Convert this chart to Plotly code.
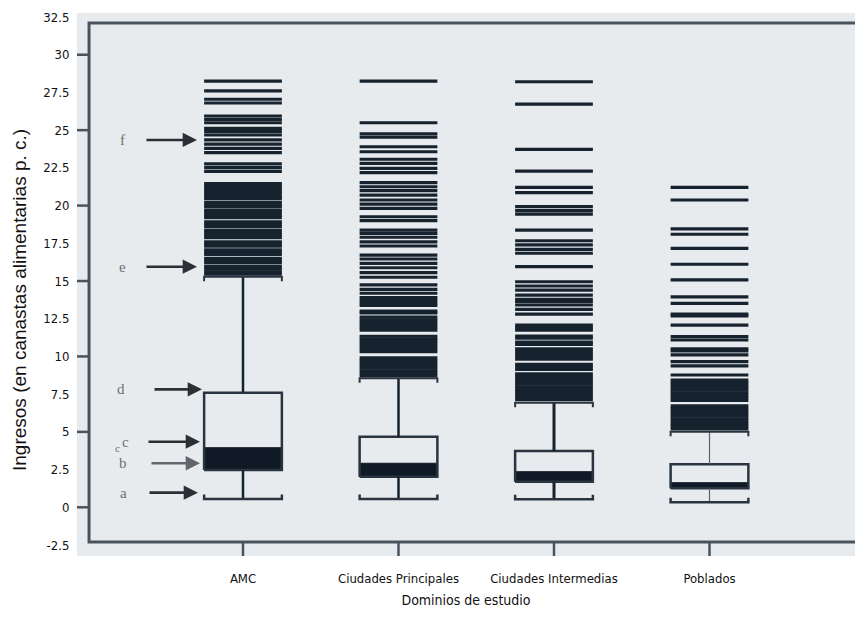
import plotly.graph_objects as go

# ---------------- data ----------------
categories = ["AMC", "Ciudades Principales", "Ciudades Intermedias", "Poblados"]
lower_whisker = [0.55, 0.55, 0.53, 0.33]
q1 = [2.47, 2.03, 1.70, 1.26]
median = [3.95, 2.92, 2.36, 1.63]
q3 = [7.60, 4.68, 3.73, 2.85]
upper_whisker = [15.29, 8.55, 6.93, 5.01]

outliers_amc = [28.25, 27.6, 27.05, 26.8, 25.94, 25.72, 25.49, 25.12, 24.9, 24.68, 24.35, 24.08,
                23.79, 23.51, 22.76, 22.51, 22.27,
                21.45, 21.28, 21.11, 20.94, 20.77, 20.6, 20.46, 20.22, 20.06, 19.93, 19.7, 19.53,
                19.36, 19.2, 18.93, 18.77, 18.62, 18.38, 18.21, 18.04, 17.87, 17.6, 17.45, 17.31,
                17.06, 16.91, 16.76, 16.5, 16.35, 16.2, 15.95, 15.78, 15.61, 15.45]
outliers_principales = [28.25, 25.49, 24.75, 24.53, 23.9, 23.57, 23.07, 22.8, 22.47, 22.18, 21.52,
                        21.25, 20.99, 20.7, 20.37, 20.1, 19.82, 19.26, 19.0, 18.38, 18.16, 17.9,
                        17.6, 17.32, 16.72, 16.46, 16.17, 15.88, 15.55, 15.25, 14.74, 14.45, 14.19,
                        13.9, 13.72, 13.55, 13.38, 13.0, 12.88, 12.6, 12.43, 12.26, 12.09, 11.92,
                        11.75, 11.34, 11.17, 11.0, 10.83, 10.66, 10.49, 10.32, 9.9, 9.73, 9.56,
                        9.39, 9.22, 9.05, 8.88, 8.72]
outliers_intermedias = [28.21, 26.73, 23.73, 22.29, 21.21, 20.86, 19.93, 19.66, 19.44, 18.38,
                        17.67, 17.39, 17.1, 16.84, 15.95, 14.95, 14.67, 14.4, 14.07, 13.79, 13.63,
                        13.41, 13.12, 12.81, 12.08, 11.91, 11.74, 11.35, 11.22, 10.95, 10.8, 10.5,
                        10.33, 10.16, 9.99, 9.82, 9.48, 9.31, 9.14, 8.84, 8.67, 8.5, 8.33, 8.16,
                        7.99, 7.82, 7.65, 7.48, 7.31, 7.14]
outliers_poblados = [21.21, 20.37, 18.45, 18.1, 17.17, 16.11, 15.07, 13.95, 13.52, 12.8, 12.68,
                     12.08, 11.31, 11.09, 10.5, 10.36, 10.1, 9.65, 9.37, 8.77, 8.44, 8.27, 8.1,
                     7.93, 7.76, 7.59, 7.42, 7.25, 7.08, 6.72, 6.55, 6.38, 6.21, 6.04, 5.87, 5.7,
                     5.53, 5.36, 5.2]
outliers = [outliers_amc, outliers_principales, outliers_intermedias, outliers_poblados]

y_tick_vals = [-2.5, 0, 2.5, 5, 7.5, 10, 12.5, 15, 17.5, 20, 22.5, 25, 27.5, 30, 32.5]
y_tick_text = ["-2.5", "0", "2.5", "5", "7.5", "10", "12.5", "15", "17.5", "20", "22.5", "25",
               "27.5", "30", "32.5"]
frame_ticks = [0, 5, 10, 15, 20, 25, 30]

arrow_letters = ["f", "e", "d", "c", "b", "a"]
arrow_values = [24.35, 15.95, 7.82, 4.35, 2.92, 0.97]

y_title = "Ingresos (en canastas alimentarias p. c.)"
x_title = "Dominios de estudio"

# ---------------- style ----------------
NARROW = "Liberation Sans Narrow, Arial Narrow, DejaVu Sans Condensed, Liberation Sans, sans-serif"
DARK = "#17222f"
BG = "#e8ebed"
HW = 0.25            # half width of boxes
X0, X1 = -1.0675, 3.9357
Y0, Y1 = -3.228, 32.766

fig = go.Figure()

def seg_trace(xs, ys, width, color):
    fig.add_trace(go.Scatter(x=xs, y=ys, mode="lines", hoverinfo="skip", showlegend=False,
                             line=dict(color=color, width=width)))

# scanned frame (left, top, bottom lines) and ticks
seg_trace([X1, -0.99, -0.99, X1], [32.1, 32.1, -2.3, -2.3], 3, "#4a545e")
fx, fy = [], []
for v in frame_ticks:
    fx += [X0, -0.99, None]
    fy += [v, v, None]
for i in range(len(categories)):
    fx += [i, i, None]
    fy += [-2.3, Y0, None]
seg_trace(fx, fy, 2.5, "#4a545e")

whisker_w = [2.5, 2.5, 3, 1.2]
whisker_c = [DARK, DARK, DARK, "#5a6470"]
for i in range(len(categories)):
    c = i
    # black band Q1..median
    fig.add_trace(go.Scatter(x=[c - HW, c + HW, c + HW, c - HW, c - HW],
                             y=[q1[i], q1[i], median[i], median[i], q1[i]],
                             mode="lines", fill="toself", fillcolor="#0f1a26",
                             line=dict(color="#0f1a26", width=1), hoverinfo="skip",
                             showlegend=False))
    # box outline
    seg_trace([c - HW, c + HW, c + HW, c - HW, c - HW],
              [q1[i], q1[i], q3[i], q3[i], q1[i]], 2.5, "#2a3440")
    # whiskers
    seg_trace([c, c, None, c, c], [lower_whisker[i], q1[i], None, q3[i], upper_whisker[i]],
              whisker_w[i], whisker_c[i])
    # caps with small end ticks
    t = 0.3
    seg_trace([c - HW, c - HW, c + HW, c + HW],
              [lower_whisker[i] + t, lower_whisker[i], lower_whisker[i], lower_whisker[i] + t],
              2.5, "#2a3440")
    seg_trace([c - HW, c - HW, c + HW, c + HW],
              [upper_whisker[i] - t, upper_whisker[i], upper_whisker[i], upper_whisker[i] - t],
              2, "#2a3440")
    # outliers as horizontal lines
    ox, oy = [], []
    for v in outliers[i]:
        ox += [c - HW, c + HW, None]
        oy += [v, v, None]
    seg_trace(ox, oy, 3.2, DARK)

# arrows + letters (AMC)
tip_px = [197, 197, 202, 200, 200, 198]
tail_px = [145, 145, 153, 147, 150, 148]
letter_px = [122, 122, 121, 125, 123, 123]
for k, lab in enumerate(arrow_letters):
    fig.add_annotation(x=(tip_px[k] - 243) / 155.5, y=arrow_values[k], xref="x", yref="y",
                       ax=tail_px[k] - tip_px[k], ay=0, text="", showarrow=True,
                       arrowhead=2, arrowsize=1.1, arrowwidth=2.6,
                       arrowcolor="#2c3034" if lab != "b" else "#60666c")
    fig.add_annotation(x=(letter_px[k] - 243) / 155.5, y=arrow_values[k], xref="x", yref="y",
                       text=lab, showarrow=False,
                       font=dict(family="Liberation Serif", size=15, color="#6a7075"))
fig.add_annotation(x=(117 - 243) / 155.5, y=3.95, xref="x", yref="y", text="c",
                   showarrow=False, font=dict(family="Liberation Serif", size=11, color="#6a7075"))

# y-axis title (positioned as in the reference)
fig.add_annotation(xref="paper", yref="paper", x=(19 - 77) / 778, y=(556 - 300) / 543,
                   text=y_title, textangle=-90, showarrow=False,
                   xanchor="center", yanchor="middle",
                   font=dict(family="Liberation Sans, Arial, sans-serif", size=19,
                             color="#111111"))

fig.update_layout(
    width=855, height=625,
    margin=dict(l=77, r=0, t=13, b=69),
    paper_bgcolor="white", plot_bgcolor=BG,
    showlegend=False,
    font=dict(family=NARROW, size=13, color="#111111"),
    xaxis=dict(range=[X0, X1], tickvals=[0, 1, 2, 3], ticktext=categories,
               showgrid=False, zeroline=False, showline=False,
               ticks="outside", ticklen=10, tickcolor="rgba(0,0,0,0)",
               tickfont=dict(family=NARROW, size=13, color="#111111"),
               title=dict(text=x_title, standoff=10,
                          font=dict(family=NARROW, size=14, color="#111111"))),
    yaxis=dict(range=[Y0, Y1], tickvals=y_tick_vals, ticktext=y_tick_text,
               showgrid=False, zeroline=False, showline=False,
               ticks="outside", ticklen=4, tickcolor="rgba(0,0,0,0)",
               tickfont=dict(family=NARROW, size=13, color="#111111")),
)

fig.write_html("out.html")
